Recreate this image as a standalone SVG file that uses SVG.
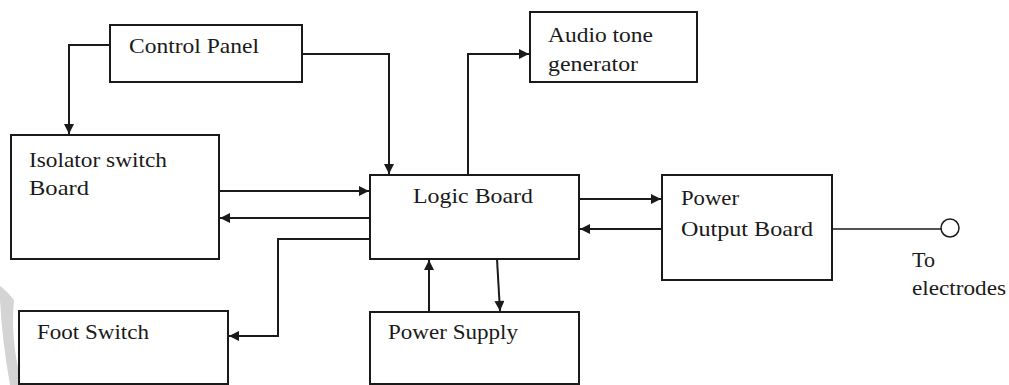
<svg xmlns="http://www.w3.org/2000/svg" width="1009" height="385" viewBox="0 0 1009 385" font-family="'Liberation Serif', 'DejaVu Serif', serif">
<style>
.box{fill:#fff;stroke:#1a1a1a;stroke-width:2}
.lbl{font-size:21px;fill:#1a1a1a}
.c{fill:none;stroke:#1a1a1a;stroke-width:2}
</style>
<defs>
<marker id="ah" viewBox="0 0 10 10" refX="10" refY="5" markerWidth="12" markerHeight="10" markerUnits="userSpaceOnUse" orient="auto">
<path d="M0,0 L10,5 L0,10 z" fill="#1a1a1a"/>
</marker>
</defs>
<rect width="1009" height="385" fill="#fff"/>
<path d="M0,286 Q6,290 14,300 Q10,340 22,385 L10,385 Q2,340 0,300 z" fill="#d4d4d4"/>
<g id="connectors">
<path class="c" d="M110,45 H69 V134" marker-end="url(#ah)"/>
<path class="c" d="M302,54 H389 V174" marker-end="url(#ah)"/>
<path class="c" d="M468,175 V54 H529" marker-end="url(#ah)"/>
<path class="c" d="M219,191 H369" marker-end="url(#ah)"/>
<path class="c" d="M370,218 H220" marker-end="url(#ah)"/>
<path class="c" d="M370,239 H278 V336 H229" marker-end="url(#ah)"/>
<path class="c" d="M579,199 H661" marker-end="url(#ah)"/>
<path class="c" d="M662,229 H580" marker-end="url(#ah)"/>
<path class="c" d="M429,312 V260" marker-end="url(#ah)"/>
<path class="c" d="M497,259 L500,311" marker-end="url(#ah)"/>
<path class="c" d="M832,229 H941" style="stroke-width:1.5"/>
<circle cx="950" cy="228" r="9" fill="#fff" stroke="#1a1a1a" stroke-width="1.5"/>
</g>
<g id="control-panel">
<rect class="box" x="110" y="25" width="192" height="57"/>
<text class="lbl" x="129" y="53" textLength="130" lengthAdjust="spacingAndGlyphs">Control Panel</text>
</g>
<g id="audio-tone-generator">
<rect class="box" x="530" y="12" width="167" height="70"/>
<text class="lbl" x="548" y="42" textLength="105" lengthAdjust="spacingAndGlyphs">Audio tone</text>
<text class="lbl" x="548" y="71" textLength="90" lengthAdjust="spacingAndGlyphs">generator</text>
</g>
<g id="isolator-switch-board">
<rect class="box" x="11" y="135" width="208" height="124"/>
<text class="lbl" x="29" y="167" textLength="138" lengthAdjust="spacingAndGlyphs">Isolator switch</text>
<text class="lbl" x="29" y="195" textLength="60" lengthAdjust="spacingAndGlyphs">Board</text>
</g>
<g id="logic-board">
<rect class="box" x="370" y="175" width="209" height="84"/>
<text class="lbl" x="413" y="203" textLength="120" lengthAdjust="spacingAndGlyphs">Logic Board</text>
</g>
<g id="power-output-board">
<rect class="box" x="662" y="175" width="170" height="105"/>
<text class="lbl" x="681" y="205" textLength="58" lengthAdjust="spacingAndGlyphs">Power</text>
<text class="lbl" x="681" y="236" textLength="132" lengthAdjust="spacingAndGlyphs">Output Board</text>
</g>
<g id="electrodes">
<text class="lbl" x="912" y="267" textLength="23" lengthAdjust="spacingAndGlyphs">To</text>
<text class="lbl" x="912" y="295" textLength="94" lengthAdjust="spacingAndGlyphs">electrodes</text>
</g>
<g id="foot-switch">
<rect class="box" x="19" y="311" width="209" height="73"/>
<text class="lbl" x="37" y="339" textLength="112" lengthAdjust="spacingAndGlyphs">Foot Switch</text>
</g>
<g id="power-supply">
<rect class="box" x="370" y="312" width="209" height="72"/>
<text class="lbl" x="388" y="339" textLength="130" lengthAdjust="spacingAndGlyphs">Power Supply</text>
</g>
</svg>
